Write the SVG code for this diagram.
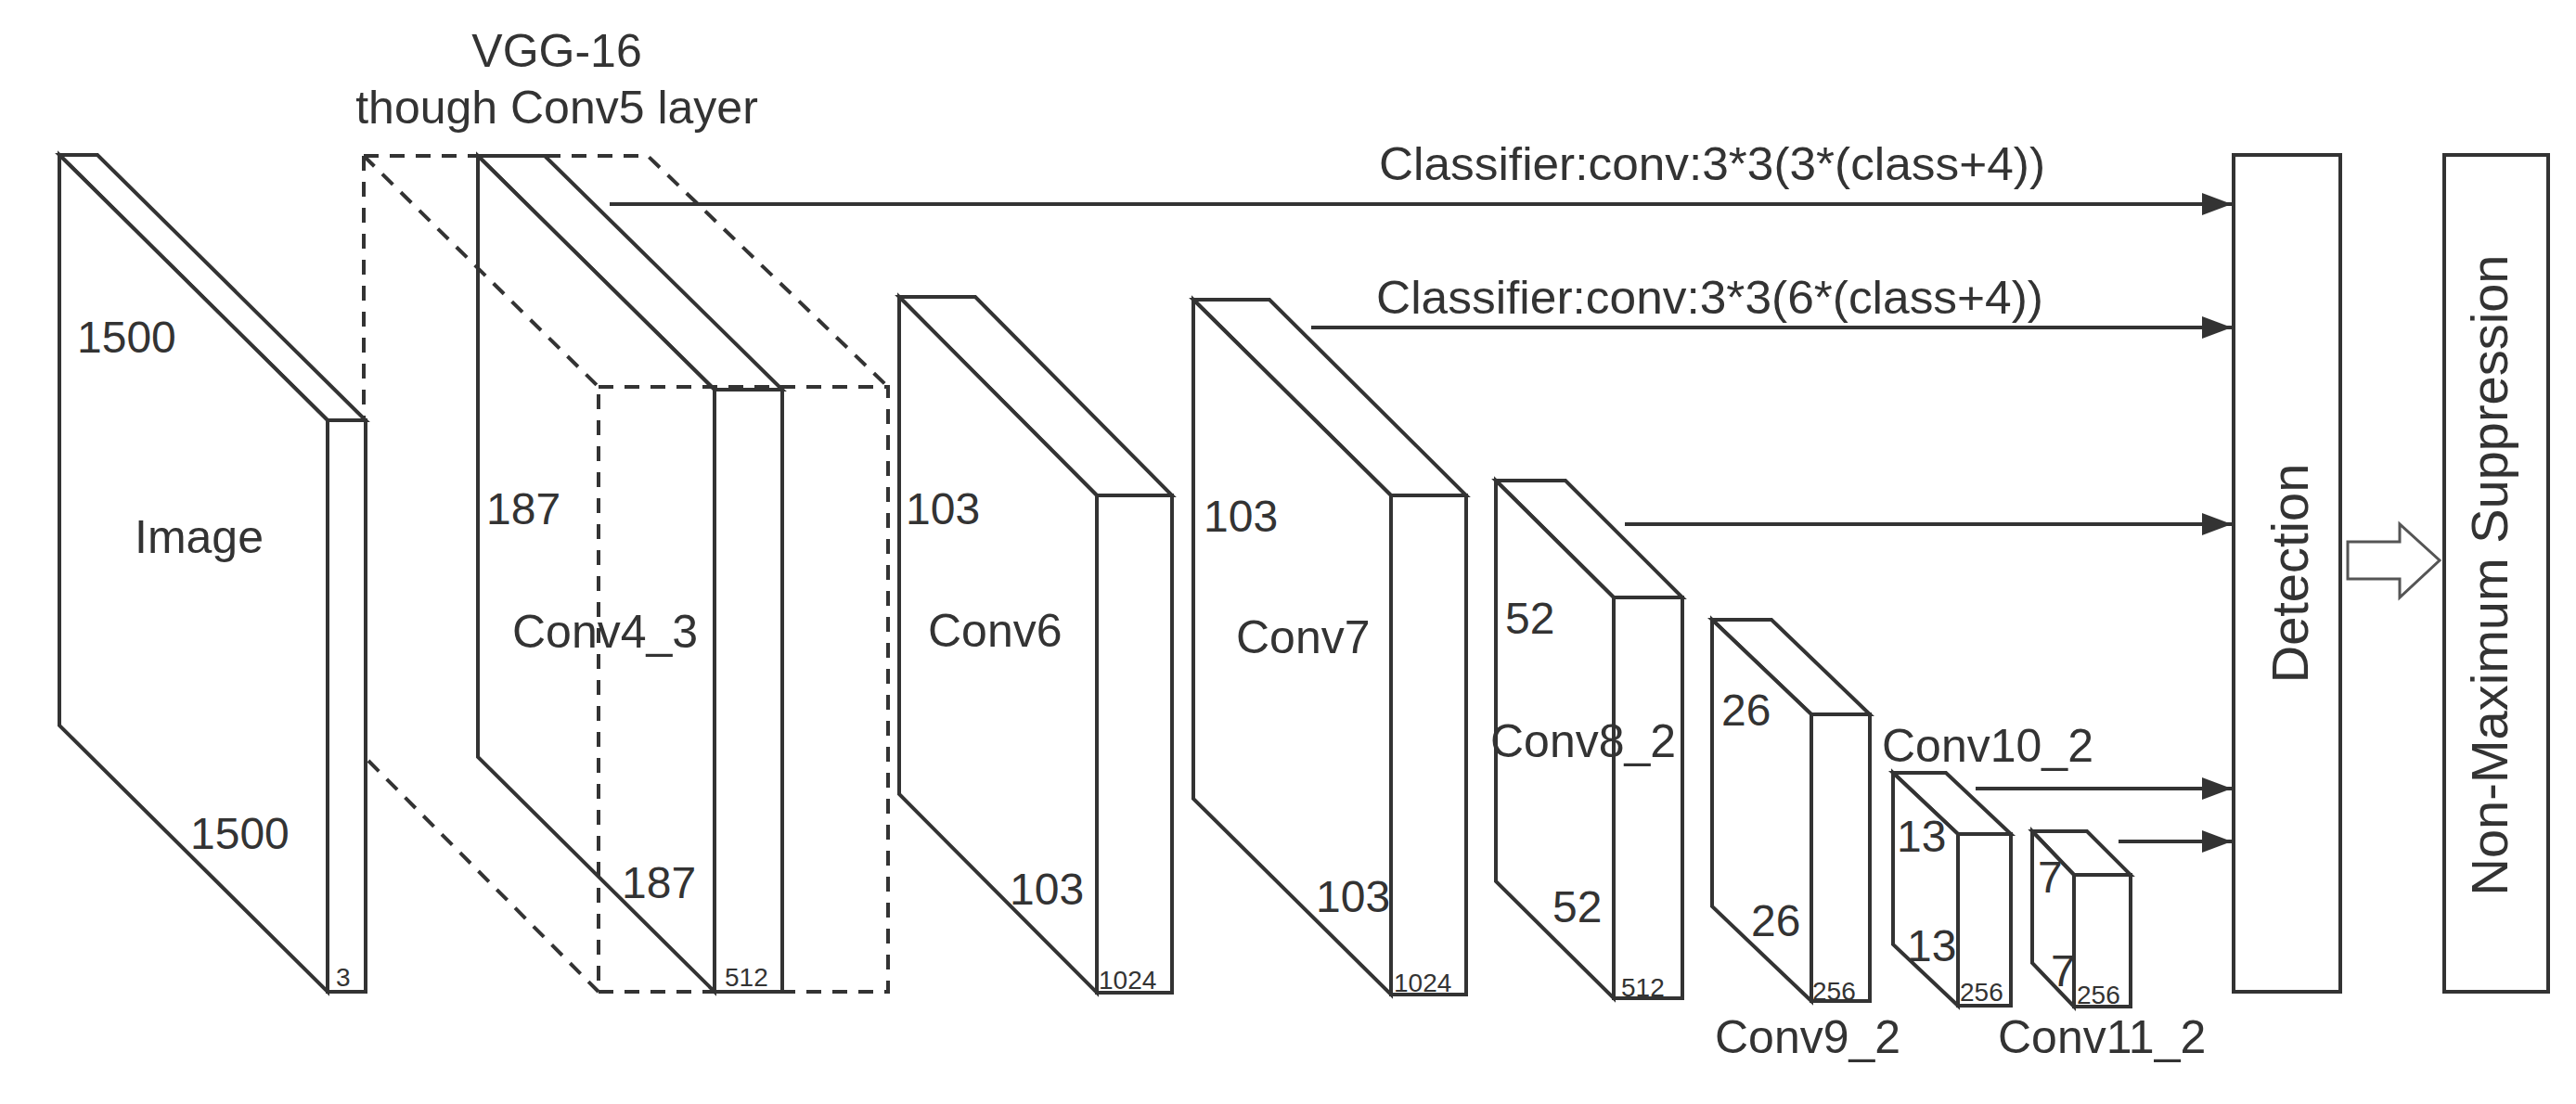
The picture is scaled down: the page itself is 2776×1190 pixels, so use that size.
<svg xmlns="http://www.w3.org/2000/svg" width="2776" height="1190" viewBox="0 0 2776 1190">
<defs>
<style>
.b{fill:#fff;stroke:#333;stroke-width:4;stroke-linejoin:miter}
.d{fill:none;stroke:#333;stroke-width:4;stroke-dasharray:16 12}
.c{stroke:#333;stroke-width:4;fill:none}
text{font-family:"Liberation Sans",Arial,sans-serif;fill:#333}
.l{font-size:50px}.n{font-size:48px}.s{font-size:28px}
</style>
<marker id="ah" markerWidth="8" markerHeight="6" refX="8" refY="3" orient="auto" markerUnits="strokeWidth"><path d="M0,0L8,3L0,6z" fill="#333"/></marker>
</defs>
<rect width="2776" height="1190" fill="#fff"/>
<g id="vgg-label">
<text class="l" x="600" y="72" text-anchor="middle">VGG-16</text>
<text class="l" x="600" y="133" text-anchor="middle">though Conv5 layer</text>
</g>
<g id="image">
<path class="b" d="M64,167L105,167L394,453L353,453z"/>
<path class="b" d="M64,167L353,453L353,1069L64,782z"/>
<rect class="b" x="353" y="453" width="41" height="616"/>
<text class="n" x="83" y="380">1500</text>
<text class="l" x="145" y="596">Image</text>
<text class="n" x="205" y="915">1500</text>
<text class="s" x="362" y="1063">3</text>
</g>
<g id="conv4_3">
<path class="b" d="M515,168L587,168L843,420L770,420z"/>
<path class="b" d="M515,168L770,420L770,1069L515,816z"/>
<rect class="b" x="770" y="420" width="73" height="649"/>
<path class="d" d="M392,168L698,168L957,417M392,168L392,450M392,168L645,417M397,820L645,1069M645,417L957,417L957,1069L645,1069z"/>
<text class="n" x="524" y="565">187</text>
<text class="l" x="552" y="698">Conv4_3</text>
<text class="n" x="670" y="968">187</text>
<text class="s" x="781" y="1063">512</text>
</g>
<g id="conv6">
<path class="b" d="M969,320L1051,320L1263,534L1182,534z"/>
<path class="b" d="M969,320L1182,534L1182,1070L969,856z"/>
<rect class="b" x="1182" y="534" width="81" height="536"/>
<text class="n" x="976" y="565">103</text>
<text class="l" x="1000" y="697">Conv6</text>
<text class="n" x="1088" y="975">103</text>
<text class="s" x="1184" y="1066">1024</text>
</g>
<g id="conv7">
<path class="b" d="M1286,323L1368,323L1580,534L1499,534z"/>
<path class="b" d="M1286,323L1499,534L1499,1072L1286,861z"/>
<rect class="b" x="1499" y="534" width="81" height="538"/>
<text class="n" x="1297" y="573">103</text>
<text class="l" x="1332" y="704">Conv7</text>
<text class="n" x="1418" y="983">103</text>
<text class="s" x="1502" y="1069">1024</text>
</g>
<g id="conv8_2">
<path class="b" d="M1612,518L1687,518L1813,644L1739,644z"/>
<path class="b" d="M1612,518L1739,644L1739,1076L1612,950z"/>
<rect class="b" x="1739" y="644" width="74" height="432"/>
<text class="n" x="1622" y="683">52</text>
<text class="l" x="1606" y="816">Conv8_2</text>
<text class="n" x="1673" y="994">52</text>
<text class="s" x="1747" y="1074">512</text>
</g>
<g id="conv9_2">
<path class="b" d="M1845,668L1909,668L2015,770L1952,770z"/>
<path class="b" d="M1845,668L1952,770L1952,1079L1845,977z"/>
<rect class="b" x="1952" y="770" width="63" height="309"/>
<text class="n" x="1855" y="782">26</text>
<text class="n" x="1887" y="1009">26</text>
<text class="s" x="1953" y="1078">256</text>
<text class="l" x="1848" y="1135">Conv9_2</text>
</g>
<g id="conv10_2">
<path class="b" d="M2040,833L2097,833L2167,899L2110,899z"/>
<path class="b" d="M2040,833L2110,899L2110,1084L2040,1018z"/>
<rect class="b" x="2110" y="899" width="57" height="185"/>
<text class="l" x="2028" y="821">Conv10_2</text>
<text class="n" x="2044" y="918">13</text>
<text class="n" x="2055" y="1036">13</text>
<text class="s" x="2112" y="1079">256</text>
</g>
<g id="conv11_2">
<path class="b" d="M2190,896L2249,896L2296,943L2235,943z"/>
<path class="b" d="M2190,896L2235,943L2235,1085L2190,1038z"/>
<rect class="b" x="2235" y="943" width="61" height="142"/>
<text class="n" x="2196" y="962">7</text>
<text class="n" x="2210" y="1063">7</text>
<text class="s" x="2238" y="1082">256</text>
<text class="l" x="2153" y="1135">Conv11_2</text>
</g>
<g id="detection">
<rect class="b" x="2407" y="167" width="115" height="902"/>
<text x="2487" y="618" font-size="56" text-anchor="middle" transform="rotate(-90 2487 618)" dy="0">Detection</text>
</g>
<g id="nms">
<rect class="b" x="2634" y="167" width="112" height="902"/>
<text x="2702" y="620" font-size="56" text-anchor="middle" transform="rotate(-90 2702 620)">Non-Maximum Suppression</text>
</g>
<g id="connectors">
<line class="c" x1="657" y1="220" x2="2405" y2="220" marker-end="url(#ah)"/>
<line class="c" x1="1413" y1="353" x2="2405" y2="353" marker-end="url(#ah)"/>
<line class="c" x1="1751" y1="565" x2="2405" y2="565" marker-end="url(#ah)"/>
<line class="c" x1="2129" y1="850" x2="2405" y2="850" marker-end="url(#ah)"/>
<line class="c" x1="2283" y1="907" x2="2405" y2="907" marker-end="url(#ah)"/>
<path d="M2530,584L2586,584L2586,565L2629,604L2586,644L2586,624L2530,624z" fill="#fff" stroke="#555" stroke-width="3"/>
<text class="l" x="1486" y="194" textLength="718" lengthAdjust="spacingAndGlyphs">Classifier:conv:3*3(3*(class+4))</text>
<text class="l" x="1483" y="338" textLength="719" lengthAdjust="spacingAndGlyphs">Classifier:conv:3*3(6*(class+4))</text>
</g>
</svg>
